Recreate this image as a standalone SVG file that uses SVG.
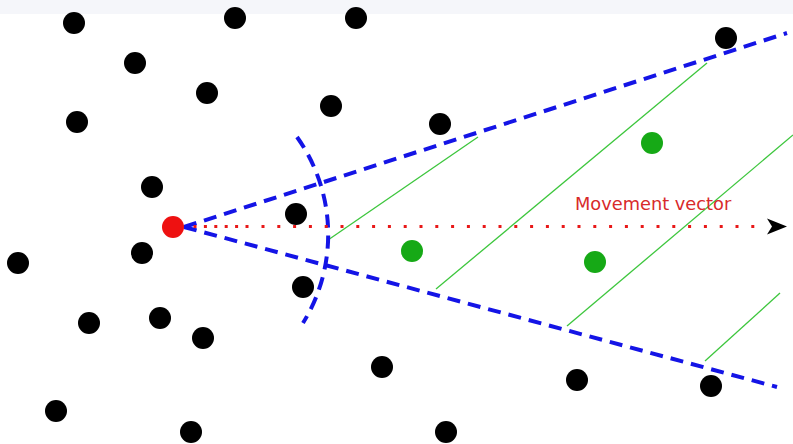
<svg xmlns="http://www.w3.org/2000/svg" width="793" height="444" viewBox="0 0 793 444">
<defs>
<style>
.b{fill:#000}
.g{fill:#16a916}
.r{fill:#ee1111}
.bl{fill:none;stroke:#1414e6;stroke-width:4;stroke-dasharray:13 8}
.gl{fill:none;stroke:#3dc63d;stroke-width:1.3}
.mv{fill:none;stroke:#e81818;stroke-width:3}
.lbl{font-family:"DejaVu Sans",sans-serif;font-size:17.8px;fill:#d82a2a}
</style>
</defs>
<rect width="793" height="444" fill="#fff"/>
<rect width="793" height="14" fill="#f5f6fa"/>
<g id="connectors">
<path class="gl" d="M328,240 L478,137"/>
<path class="gl" d="M436,289 L707,63"/>
<path class="gl" d="M567,326 L793,135"/>
<path class="gl" d="M705,361 L780,293"/>
<path class="bl" d="M184,227 L787,33"/>
<path class="bl" d="M184,227 L777,387"/>
<path class="bl" d="M297,137 A168,168 0 0 1 303,323"/>
<path class="mv" stroke-dasharray="3 7.4" d="M193.5,226.5 L250,226.5"/>
<path class="mv" stroke-dasharray="3 12.8" d="M261.5,226.5 L766,226.5"/>
<path d="M787,226.5 L767,218.5 L772,226.5 L767,234.5 Z" fill="#000"/>
</g>
<g id="others">
<circle id="p1" class="b" cx="74" cy="23" r="11"/>
<circle id="p2" class="b" cx="235" cy="18" r="11"/>
<circle id="p3" class="b" cx="356" cy="18" r="11"/>
<circle id="p4" class="b" cx="135" cy="63" r="11"/>
<circle id="p5" class="b" cx="207" cy="93" r="11"/>
<circle id="p6" class="b" cx="77" cy="122" r="11"/>
<circle id="p7" class="b" cx="331" cy="106" r="11"/>
<circle id="p8" class="b" cx="440" cy="124" r="11"/>
<circle id="p9" class="b" cx="726" cy="38" r="11"/>
<circle id="p10" class="b" cx="152" cy="187" r="11"/>
<circle id="p11" class="b" cx="296" cy="214" r="11"/>
<circle id="p12" class="b" cx="142" cy="253" r="11"/>
<circle id="p13" class="b" cx="18" cy="263" r="11"/>
<circle id="p14" class="b" cx="303" cy="287" r="11"/>
<circle id="p15" class="b" cx="89" cy="323" r="11"/>
<circle id="p16" class="b" cx="160" cy="318" r="11"/>
<circle id="p17" class="b" cx="203" cy="338" r="11"/>
<circle id="p18" class="b" cx="382" cy="367" r="11"/>
<circle id="p19" class="b" cx="577" cy="380" r="11"/>
<circle id="p20" class="b" cx="711" cy="386" r="11"/>
<circle id="p21" class="b" cx="56" cy="411" r="11"/>
<circle id="p22" class="b" cx="191" cy="432" r="11"/>
<circle id="p23" class="b" cx="446" cy="432" r="11"/>
</g>
<g id="visible">
<circle id="v1" class="g" cx="652" cy="143" r="11"/>
<circle id="v2" class="g" cx="412" cy="251" r="11"/>
<circle id="v3" class="g" cx="595" cy="262" r="11"/>
</g>
<g id="agent">
<circle class="r" cx="173" cy="227" r="11"/>
</g>
<g id="label">
<text class="lbl" x="575" y="210">Movement vector</text>
</g>
</svg>
